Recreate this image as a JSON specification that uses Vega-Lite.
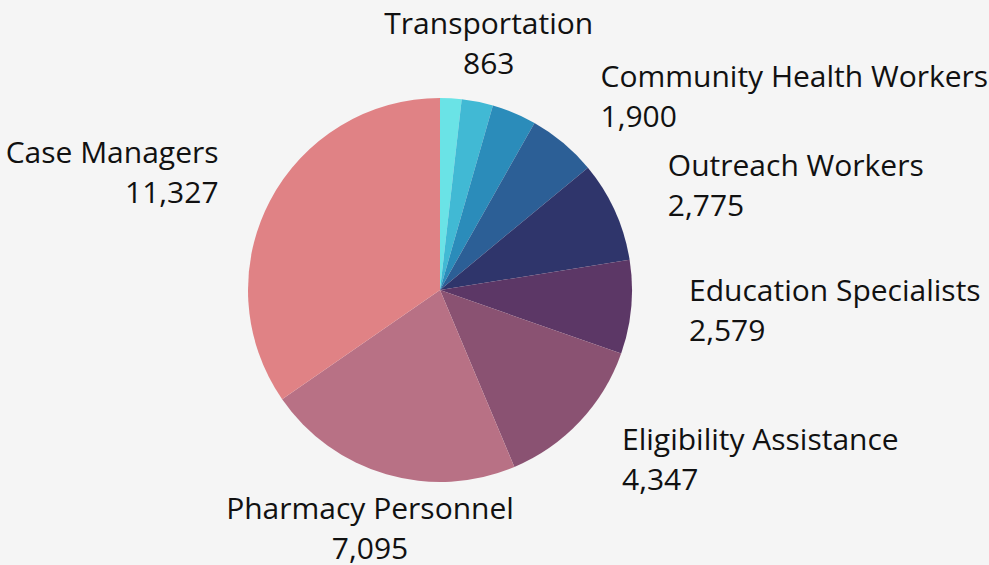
{
  "$schema": "https://vega.github.io/schema/vega-lite/v6.json",
  "width": 880,
  "height": 550,
  "autosize": "none",
  "padding": {"left": 0, "top": 15, "right": 109, "bottom": 0},
  "background": "#f5f5f5",
  "view": {"stroke": null},
  "data": {
    "values": [
      {"name": "Other 1", "value": 590, "rank": 1, "labeled": false},
      {"name": "Transportation", "value": 863, "rank": 2, "labeled": true},
      {"name": "Other 2", "value": 1226, "rank": 3, "labeled": false},
      {"name": "Community Health Workers", "value": 1900, "rank": 4, "labeled": true},
      {"name": "Outreach Workers", "value": 2775, "rank": 5, "labeled": true},
      {"name": "Education Specialists", "value": 2579, "rank": 6, "labeled": true},
      {"name": "Eligibility Assistance", "value": 4347, "rank": 7, "labeled": true},
      {"name": "Pharmacy Personnel", "value": 7095, "rank": 8, "labeled": true},
      {"name": "Case Managers", "value": 11327, "rank": 9, "labeled": true}
    ]
  },
  "transform": [
    {"calculate": "datum.name + '\\n' + format(datum.value, ',')", "as": "label"}
  ],
  "encoding": {
    "theta": {"field": "value", "type": "quantitative", "stack": true},
    "order": {"field": "rank", "type": "quantitative"}
  },
  "layer": [
    {
      "mark": {"type": "arc", "outerRadius": 192, "stroke": null},
      "encoding": {
        "color": {
          "field": "name",
          "type": "nominal",
          "legend": null,
          "scale": {
            "domain": ["Other 1", "Transportation", "Other 2", "Community Health Workers", "Outreach Workers", "Education Specialists", "Eligibility Assistance", "Pharmacy Personnel", "Case Managers"],
            "range": ["#6ae3e6", "#41b9d4", "#2b8cba", "#2c5f96", "#2f356b", "#5c3766", "#8a5272", "#b87185", "#e08285"]
          }
        }
      }
    },
    {
      "mark": {"type": "text", "radius": 250, "align": "left", "baseline": "middle", "dy": -20, "lineBreak": "\n", "lineHeight": 40, "font": "Open Sans", "fontSize": 30, "color": "#111111"},
      "encoding": {"text": {"condition": {"test": "indexof(['Community Health Workers', 'Outreach Workers', 'Education Specialists', 'Eligibility Assistance'], datum.name) >= 0", "field": "label"}, "value": ""}}
    },
    {
      "mark": {"type": "text", "radius": 250, "align": "center", "baseline": "middle", "dy": -20, "lineBreak": "\n", "lineHeight": 40, "font": "Open Sans", "fontSize": 30, "color": "#111111"},
      "encoding": {"text": {"condition": {"test": "indexof(['Transportation', 'Pharmacy Personnel'], datum.name) >= 0", "field": "label"}, "value": ""}}
    },
    {
      "mark": {"type": "text", "radius": 250, "align": "right", "baseline": "middle", "dy": -20, "lineBreak": "\n", "lineHeight": 40, "font": "Open Sans", "fontSize": 30, "color": "#111111"},
      "encoding": {"text": {"condition": {"test": "datum.name === 'Case Managers'", "field": "label"}, "value": ""}}
    }
  ]
}
